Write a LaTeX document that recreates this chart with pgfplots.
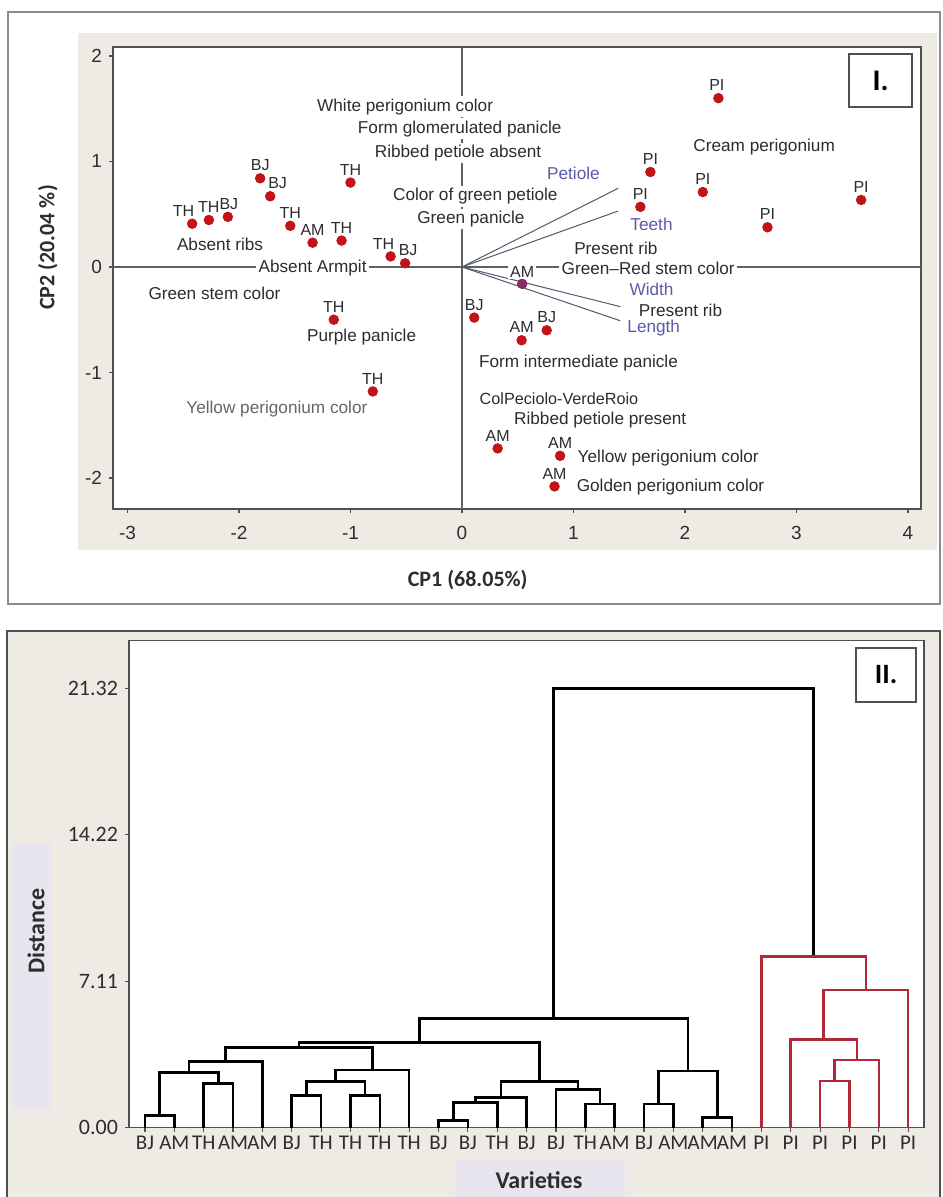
\documentclass[border=0pt]{standalone}
\usepackage{pgfplots}
\usepackage{pgfplotstable}
\pgfplotsset{compat=1.18}
\usepackage{fontspec}
\setmainfont{Liberation Sans}
\newfontfamily\calib{Carlito}

\definecolor{panelbg}{RGB}{237,235,227}
\definecolor{lav}{RGB}{232,229,239}
\definecolor{ptred}{RGB}{192,20,24}
\definecolor{ptpurple}{RGB}{140,40,100}
\definecolor{vecc}{RGB}{80,88,108}
\definecolor{bluelab}{RGB}{90,92,170}
\definecolor{txt}{RGB}{45,45,45}
\definecolor{dred}{RGB}{178,40,56}
\definecolor{axgray}{RGB}{80,80,80}

\newcommand\fs[1]{\fontsize{#1}{#1}\selectfont}

\tikzset{
  anno/.style={font=\fs{8.6}, text=txt, fill=white, inner sep=1.2pt},
  blab/.style={font=\fs{8.6}, text=bluelab, fill=white, inner sep=1.2pt},
  blk/.style={black, line width=1.3pt},
  rd/.style={dred, line width=1.3pt},
}

% PCA scores (CP1, CP2), label, label x-shift in pt
\pgfplotstableread{
x y lab dx
-2.42 0.41 TH -4.3
-2.27 0.445 TH 0
-2.10 0.475 BJ 0.5
-1.81 0.84 BJ 0
-1.72 0.67 BJ 3.7
-1.54 0.39 TH 0
-1.34 0.23 AM 0
-1.08 0.25 TH 0
-1.00 0.80 TH 0
-0.64 0.10 TH -3.5
-0.51 0.035 BJ 1.5
-1.15 -0.50 TH 0
-0.80 -1.18 TH 0
0.11 -0.48 BJ 0
0.76 -0.60 BJ 0
0.535 -0.695 AM 0
0.32 -1.72 AM 0
0.88 -1.79 AM 0
0.83 -2.08 AM 0
1.69 0.90 PI 0
1.60 0.57 PI 0
2.16 0.71 PI 0
2.30 1.60 PI -0.8
2.74 0.376 PI 0
3.58 0.635 PI 0
}\pcascores

\begin{document}
\begin{tikzpicture}
\useasboundingbox (0,0) rectangle (471pt,598.5pt);
% panel frames and backgrounds
\draw[fill=white, draw=gray!90, line width=1pt] (4pt,296.5pt) rectangle (470pt,592.5pt);
\fill[panelbg] (39pt,323.5pt) rectangle (468.5pt,582pt);
\fill[panelbg] (3.5pt,-2pt) rectangle (470pt,283.2pt);
\draw[axgray, line width=1pt] (3.5pt,-2pt) -- (3.5pt,283.2pt) -- (470pt,283.2pt) -- (470pt,-2pt);
\fill[lav] (6pt,43.5pt) rectangle (25.5pt,177pt);
\fill[lav] (227.5pt,-1pt) rectangle (312.5pt,18.5pt);

% ---------- I. PCA biplot ----------
\begin{axis}[
  at={(56.5pt,344pt)}, anchor=south west,
  scale only axis, width=404pt, height=231pt,
  xmin=-3.13, xmax=4.117, ymin=-2.294, ymax=2.085,
  xtick={-3,-2,-1,0,1,2,3,4}, ytick={-2,-1,0,1,2},
  axis background/.style={fill=white},
  axis line style={axgray, line width=0.8pt},
  tick align=outside, xtick pos=bottom, ytick pos=left,
  major tick length=2pt,
  tick style={axgray, line width=0.6pt},
  ticklabel style={font=\fs{9.5}, text=txt},
  xticklabel style={yshift=-3pt},
  /pgf/number format/assume math mode=true,
]
\draw[axgray!90, line width=0.6pt] (axis cs:0,-2.294) -- (axis cs:0,2.085);
\draw[axgray!90, line width=0.6pt] (axis cs:-3.13,0) -- (axis cs:4.117,0);
\addplot[vecc, line width=0.5pt] coordinates {(0,0) (1.40,0.745)};
\addplot[vecc, line width=0.5pt] coordinates {(0,0) (1.40,0.53)};
\addplot[vecc, line width=0.5pt] coordinates {(0,0) (1.42,-0.376)};
\addplot[vecc, line width=0.5pt] coordinates {(0,0) (1.42,-0.51)};
\node[anno] at (axis cs:-0.51,1.52) {White perigonium color};
\node[anno] at (axis cs:-0.02,1.31) {Form glomerulated panicle};
\node[anno] at (axis cs:-0.035,1.08) {Ribbed petiole absent};
\node[anno] at (axis cs:0.12,0.67) {Color of green petiole};
\node[anno] at (axis cs:0.08,0.455) {Green panicle};
\node[anno] at (axis cs:-2.17,0.21) {Absent ribs};
\node[anno] at (axis cs:-1.34,-0.01) {Absent Armpit};
\node[anno] at (axis cs:-2.22,-0.25) {Green stem color};
\node[anno] at (axis cs:-0.90,-0.66) {Purple panicle};
\node[anno, text=black!60] at (axis cs:-1.66,-1.35) {Yellow perigonium color};
\node[blab] at (axis cs:1.0,0.89) {Petiole};
\node[blab] at (axis cs:1.70,0.40) {Teeth};
\node[anno] at (axis cs:1.38,0.18) {Present rib};
\node[anno] at (axis cs:1.67,-0.01) {Green--Red stem color};
\node[blab] at (axis cs:1.70,-0.21) {Width};
\node[anno] at (axis cs:1.96,-0.41) {Present rib};
\node[blab] at (axis cs:1.72,-0.58) {Length};
\node[anno] at (axis cs:1.045,-0.91) {Form intermediate panicle};
\node[anno, font=\fs{8.1}] at (axis cs:0.87,-1.25) {ColPeciolo-VerdeRoio};
\node[anno] at (axis cs:1.24,-1.45) {Ribbed petiole present};
\node[anno] at (axis cs:1.85,-1.81) {Yellow perigonium color};
\node[anno] at (axis cs:1.87,-2.09) {Golden perigonium color};
\node[anno] at (axis cs:2.71,1.14) {Cream perigonium};
\addplot[only marks, mark=*, mark size=2.4pt, color=ptred,
  nodes near coords, point meta=explicit symbolic,
  visualization depends on={\thisrow{dx}\as\dx},
  every node near coord/.append style={font=\fs{8}, text=txt, anchor=south,
    inner sep=1pt, yshift=2.5pt, xshift=\dx pt}]
  table[x=x, y=y, meta=lab] {\pcascores};
\addplot[only marks, mark=*, mark size=2.4pt, color=ptpurple,
  nodes near coords, point meta=explicit symbolic,
  every node near coord/.append style={font=\fs{8}, text=txt, anchor=south,
    inner sep=1pt, fill=white, yshift=2pt}]
  coordinates {(0.54,-0.16) [AM]};
\end{axis}
\node[font=\calib\bfseries\fs{11}, text=txt] at (233.85pt,308.5pt) {CP1 (68.05\%)};
\node[font=\calib\bfseries\fs{11}, text=txt, rotate=90] at (24pt,474.75pt) {CP2 (20.04 \%)};
\draw[fill=white, draw=axgray, line width=0.8pt] (424.5pt,545pt) rectangle (456pt,571.5pt);
\node[font=\calib\bfseries\fs{15}] at (440.25pt,558.25pt) {I.};

% ---------- II. dendrogram ----------
\begin{axis}[
  at={(64.5pt,34.65pt)}, anchor=south west,
  scale only axis, width=397.5pt, height=243.5pt,
  xmin=0.455, xmax=27.54, ymin=0, ymax=23.64,
  xtick={1,...,27},
  xticklabels={BJ,AM,TH,AM,AM,BJ,TH,TH,TH,TH,BJ,BJ,TH,BJ,BJ,TH,AM,BJ,AM,AM,AM,PI,PI,PI,PI,PI,PI},
  ytick={0,7.11,14.22,21.32},
  yticklabel style={/pgf/number format/.cd, fixed, fixed zerofill, precision=2},
  axis background/.style={fill=white},
  axis line style={axgray, line width=0.8pt},
  tick align=outside, xtick pos=bottom, ytick pos=left,
  major tick length=2pt,
  tick style={axgray, line width=0.6pt},
  ticklabel style={font=\calib\fs{11}, text=txt},
  xticklabel style={font=\calib\fs{10.5}, yshift=-1pt, inner sep=1pt},
  /pgf/number format/assume math mode=true,
]
\addplot[blk] coordinates {(1,0) (1,0.58) (2,0.58) (2,0)};
\addplot[blk] coordinates {(3,0) (3,2.15) (4,2.15) (4,0)};
\addplot[blk] coordinates {(1.5,0.58) (1.5,2.67) (3.5,2.67) (3.5,2.15)};
\addplot[blk] coordinates {(2.5,2.67) (2.5,3.20) (5,3.20) (5,0)};
\addplot[blk] coordinates {(6,0) (6,1.55) (7,1.55) (7,0)};
\addplot[blk] coordinates {(8,0) (8,1.55) (9,1.55) (9,0)};
\addplot[blk] coordinates {(6.5,1.55) (6.5,2.23) (8.5,2.23) (8.5,1.55)};
\addplot[blk] coordinates {(7.5,2.23) (7.5,2.80) (10,2.80) (10,0)};
\addplot[blk] coordinates {(3.75,3.20) (3.75,3.88) (8.75,3.88) (8.75,2.80)};
\addplot[blk] coordinates {(11,0) (11,0.34) (12,0.34) (12,0)};
\addplot[blk] coordinates {(11.5,0.34) (11.5,1.23) (13,1.23) (13,0)};
\addplot[blk] coordinates {(12.25,1.23) (12.25,1.46) (14,1.46) (14,0)};
\addplot[blk] coordinates {(16,0) (16,1.15) (17,1.15) (17,0)};
\addplot[blk] coordinates {(15,0) (15,1.86) (16.5,1.86) (16.5,1.15)};
\addplot[blk] coordinates {(13.125,1.46) (13.125,2.23) (15.75,2.23) (15.75,1.86)};
\addplot[blk] coordinates {(6.25,3.88) (6.25,4.13) (14.4375,4.13) (14.4375,2.23)};
\addplot[blk] coordinates {(18,0) (18,1.15) (19,1.15) (19,0)};
\addplot[blk] coordinates {(20,0) (20,0.50) (21,0.50) (21,0)};
\addplot[blk] coordinates {(18.5,1.15) (18.5,2.75) (20.5,2.75) (20.5,0.50)};
\addplot[blk] coordinates {(10.34375,4.13) (10.34375,5.31) (19.5,5.31) (19.5,2.75)};
\addplot[blk] coordinates {(14.921875,5.31) (14.921875,21.32) (23.78125,21.32) (23.78125,8.30)};
\addplot[rd] coordinates {(24,0) (24,2.27) (25,2.27) (25,0)};
\addplot[rd] coordinates {(24.5,2.27) (24.5,3.29) (26,3.29) (26,0)};
\addplot[rd] coordinates {(23,0) (23,4.29) (25.25,4.29) (25.25,3.29)};
\addplot[rd] coordinates {(24.125,4.29) (24.125,6.68) (27,6.68) (27,0)};
\addplot[rd] coordinates {(22,0) (22,8.30) (25.5625,8.30) (25.5625,6.68)};
\end{axis}
\node[font=\calib\bfseries\fs{12}, text=txt] at (269.5pt,8.5pt) {Varieties};
\node[font=\calib\bfseries\fs{12}, text=txt, rotate=90] at (18pt,133pt) {Distance};
\draw[fill=white, draw=axgray, line width=0.8pt] (428pt,247.5pt) rectangle (458pt,274.5pt);
\node[font=\calib\bfseries\fs{14}] at (443pt,261pt) {II.};
\end{tikzpicture}
\end{document}
